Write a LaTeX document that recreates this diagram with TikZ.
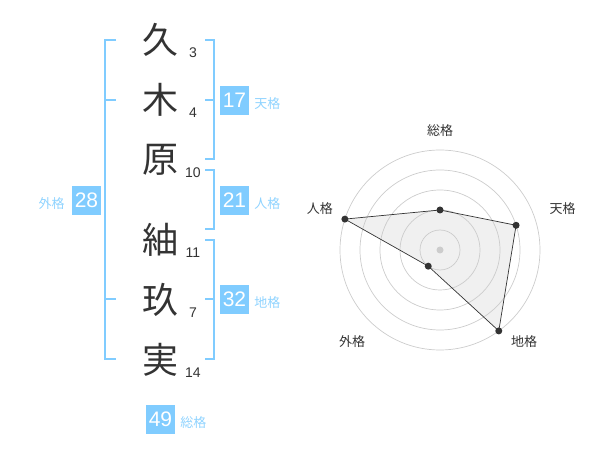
\documentclass[tikz,border=0pt]{standalone}
\usepackage{fontspec}
\usetikzlibrary{positioning}
\setmainfont{Liberation Sans}
\newfontfamily\jfont{Noto Sans CJK JP}
\definecolor{kakublue}{HTML}{80CCFF}
\definecolor{kakulabel}{HTML}{8FD3FF}
\definecolor{inkgray}{HTML}{333333}
\definecolor{ringgray}{HTML}{CCCCCC}
\definecolor{polyfill}{HTML}{F0F0F0}
\begin{document}
\begin{tikzpicture}[x=1pt,y=-1pt,
		kanji/.style={font=\jfont\fontsize{36}{36}\selectfont, text=inkgray, inner sep=0pt},
		strokes/.style={font=\fontsize{14}{14}\selectfont, text=inkgray, inner sep=0pt},
		kakubox/.style={fill=kakublue, text=white, minimum size=29pt, inner sep=0pt, font=\fontsize{21}{21}\selectfont},
		kakuname/.style={font=\jfont\fontsize{13}{13}\selectfont, text=kakulabel, inner sep=0pt, yshift=-3pt},
		axisname/.style={font=\jfont\fontsize{13}{13}\selectfont, text=inkgray, inner sep=0pt},
		bracket/.style={draw=kakublue, line width=2pt},
		ring/.style={draw=ringgray, line width=0.7pt},
		scoredot/.style={circle, fill=inkgray, inner sep=0pt, minimum size=7pt}]
		\useasboundingbox (0,0) rectangle (600,470);

		% name
		\node[kanji] (c1) at (160,40) {久};
		\node[kanji] (c2) at (160,100) {木};
		\node[kanji] (c3) at (160,160) {原};
		\node[kanji] (c4) at (160,240) {紬};
		\node[kanji] (c5) at (160,300) {玖};
		\node[kanji] (c6) at (160,360) {実};
		\node[strokes] (s1) at (193,53) {3};
		\node[strokes] (s2) at (193,113) {4};
		\node[strokes] (s3) at (193,173) {10};
		\node[strokes] (s4) at (193,253) {11};
		\node[strokes] (s5) at (193,313) {7};
		\node[strokes] (s6) at (193,373) {14};

		% brackets
		\draw[bracket] (116,40) -| (105,359) -- ++(11,0);
		\draw[bracket] (105,100) -- ++(11,0);
		\draw[bracket] (105,299) -- ++(11,0);
		\draw[bracket] (205,40) -| (214,159) -- ++(-9,0);
		\draw[bracket] (205,100) -- ++(9,0);
		\draw[bracket] (205,170) -| (214,229) -- ++(-9,0);
		\draw[bracket] (205,240) -| (214,359) -- ++(-9,0);
		\draw[bracket] (205,299) -- ++(9,0);

		% kaku
		\node[kakubox] (ten) at (234.5,100.5) {17};
		\node[kakuname, right=5pt of ten] (tenname) {天格};
		\node[kakubox] (jin) at (234.5,200.5) {21};
		\node[kakuname, right=5pt of jin] (jinname) {人格};
		\node[kakubox] (chi) at (234.5,299.5) {32};
		\node[kakuname, right=5pt of chi] (chiname) {地格};
		\node[kakubox] (gai) at (86.5,200.5) {28};
		\node[kakuname, left=7pt of gai] (gainame) {外格};
		\node[kakubox] (sou) at (160.5,419.5) {49};
		\node[kakuname, right=5pt of sou] (souname) {総格};

		% radar
		\begin{scope}[shift={(440,250)}, yscale=-1]
			\coordinate (p1) at (90:40);
			\coordinate (p2) at (18:80);
			\coordinate (p3) at (-54:100);
			\coordinate (p4) at (-126:20);
			\coordinate (p5) at (162:100);
			\fill[polyfill] (p1) -- (p2) -- (p3) -- (p4) -- (p5) -- cycle;
			\foreach \r in {20,40,...,100}
				\draw[ring] (0,0) circle (\r pt);
			\node[circle, fill=ringgray, inner sep=0pt, minimum size=7pt] (hub) at (0,0) {};
			\draw[inkgray, line width=0.7pt] (p1) -- (p2) -- (p3) -- (p4) -- (p5) -- cycle;
			\foreach \i in {1,...,5}
				\node[scoredot] (d\i) at (p\i) {};
			\node[axisname] (a1) at (90:119) {総格};
			\node[axisname] (a2) at (18.8:129.6) {天格};
			\node[axisname] (a3) at (-47.6:124.6) {地格};
			\node[axisname] (a4) at (-133.7:127.3) {外格};
			\node[axisname] (a5) at (161:127) {人格};
		\end{scope}
\end{tikzpicture}
\end{document}
